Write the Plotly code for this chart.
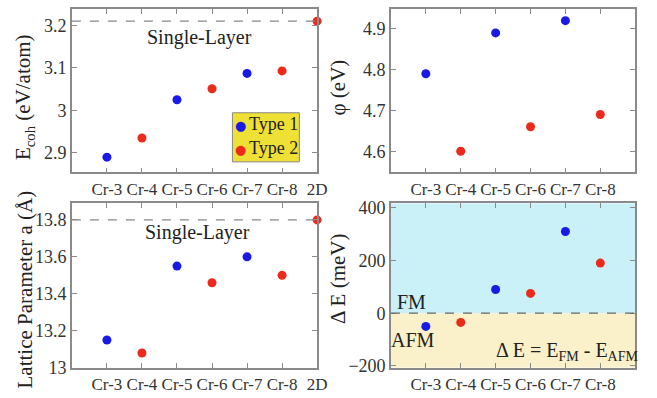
import plotly.graph_objects as go

# ---- data ----
cats_all = ["Cr-3", "Cr-4", "Cr-5", "Cr-6", "Cr-7", "Cr-8", "2D"]
cats = ["Cr-3", "Cr-4", "Cr-5", "Cr-6", "Cr-7", "Cr-8"]

type1_x = ["Cr-3", "Cr-5", "Cr-7"]
type2_x = ["Cr-4", "Cr-6", "Cr-8"]
type2_x_2d = ["Cr-4", "Cr-6", "Cr-8", "2D"]

ecoh_t1 = [2.89, 3.025, 3.087]
ecoh_t2 = [2.935, 3.051, 3.093, 3.21]
ecoh_single = 3.21

phi_t1 = [4.79, 4.89, 4.92]
phi_t2 = [4.60, 4.66, 4.69]

lat_t1 = [13.15, 13.55, 13.60]
lat_t2 = [13.08, 13.46, 13.50, 13.80]
lat_single = 13.80

de_t1 = [-50, 90, 310]
de_t2 = [-35, 75, 190]

legend_names = ["Type 1", "Type 2"]

BLUE = "#1a1ae6"
RED = "#ec2a1c"
FRAME = "#8a8a8a"
FONT = "Liberation Serif, serif"
W, H = 657, 398


def px_x(p):
    return p / W


def px_y(p):
    return 1 - p / H


fig = go.Figure()


def add_pts(x, y, color, name, axis):
    fig.add_trace(go.Scatter(
        x=x, y=y, mode="markers", name=name, showlegend=False,
        marker=dict(color=color, size=9),
        xaxis="x" + axis, yaxis="y" + axis, cliponaxis=False))


add_pts(type1_x, ecoh_t1, BLUE, legend_names[0], "")
add_pts(type2_x_2d, ecoh_t2, RED, legend_names[1], "")
add_pts(type1_x, phi_t1, BLUE, legend_names[0], "2")
add_pts(type2_x, phi_t2, RED, legend_names[1], "2")
add_pts(type1_x, lat_t1, BLUE, legend_names[0], "3")
add_pts(type2_x_2d, lat_t2, RED, legend_names[1], "3")
add_pts(type1_x, de_t1, BLUE, legend_names[0], "4")
add_pts(type2_x, de_t2, RED, legend_names[1], "4")

doms_x = {"": (73, 322), "2": (397, 645), "3": (73, 322), "4": (397, 645)}
doms_y = {"": (4, 174), "2": (4, 174), "3": (206, 377), "4": (206, 377)}
yranges = {"": [2.854, 3.239], "2": [4.548, 4.949], "3": [13.0, 13.89], "4": [-207, 417]}
dticks = {"": 0.1, "2": 0.1, "3": 0.2, "4": 200}

axis_common = dict(showline=True, linecolor=FRAME, linewidth=1.5, mirror="ticks",
                   ticks="inside", ticklen=5, tickcolor=FRAME, showgrid=False,
                   zeroline=False)

layout = {}
for a in ["", "2", "3", "4"]:
    x0, x1 = doms_x[a]
    y0, y1 = doms_y[a]
    layout["xaxis" + a] = dict(axis_common, domain=[px_x(x0), px_x(x1)],
                               type="category", categoryorder="array",
                               categoryarray=cats_all, range=[-1, 6],
                               tickvals=cats_all if a in ("", "3") else cats,
                               tickfont=dict(family=FONT, size=17, color="#333"),
                               anchor="y" + a)
    layout["yaxis" + a] = dict(axis_common, domain=[px_y(y1), px_y(y0)],
                               range=yranges[a], dtick=dticks[a],
                               tickfont=dict(family=FONT, size=18, color="#333"),
                               anchor="x" + a)

fig.update_layout(**layout)

shapes = [
    # panel 4 backgrounds
    dict(type="rect", xref="x4 domain", yref="y4", x0=0, x1=1, y0=0, y1=417,
         fillcolor="#c9f1f7", line=dict(width=0), layer="below"),
    dict(type="rect", xref="x4 domain", yref="y4", x0=0, x1=1, y0=-207, y1=0,
         fillcolor="#faf0c9", line=dict(width=0), layer="below"),
    dict(type="line", xref="x4 domain", yref="y4", x0=0, x1=1, y0=0, y1=0,
         line=dict(color="#666", width=1.2, dash="dash")),
    dict(type="line", xref="x domain", yref="y", x0=0, x1=1, y0=ecoh_single, y1=ecoh_single,
         line=dict(color="#888", width=1.2, dash="dash")),
    dict(type="line", xref="x3 domain", yref="y3", x0=0, x1=1, y0=lat_single, y1=lat_single,
         line=dict(color="#888", width=1.2, dash="dash")),
    # legend box
    dict(type="rect", xref="paper", yref="paper", x0=px_x(236), x1=px_x(304),
         y0=px_y(163), y1=px_y(112), fillcolor="#efe035",
         line=dict(color="#888", width=1)),
]

ann_font = dict(family=FONT, size=20, color="#222")
title_font = dict(family=FONT, size=21, color="#222")
leg_font = dict(family=FONT, size=18, color="#222")
annotations = [
    dict(text="Single-Layer", x=2.65, y=3.172, xref="x", yref="y", showarrow=False, font=ann_font),
    dict(text="Single-Layer", x=2.6, y=13.73, xref="x3", yref="y3", showarrow=False, font=ann_font),
    dict(text="FM", x=-0.4, y=42, xref="x4", yref="y4", showarrow=False, font=ann_font),
    dict(text="AFM", x=-0.37, y=-100, xref="x4", yref="y4", showarrow=False, font=ann_font),
    dict(text="Δ E = E<sub>FM</sub> - E<sub>AFM</sub>", x=4.05, y=-145, xref="x4", yref="y4",
         showarrow=False, font=ann_font),
    # legend entries
    dict(text="●", x=px_x(244), y=px_y(125), xref="paper", yref="paper", showarrow=False,
         xanchor="center", yanchor="middle", font=dict(family="DejaVu Sans", size=13, color=BLUE)),
    dict(text="●", x=px_x(244), y=px_y(150), xref="paper", yref="paper", showarrow=False,
         xanchor="center", yanchor="middle", font=dict(family="DejaVu Sans", size=13, color=RED)),
    dict(text=legend_names[0], x=px_x(251), y=px_y(124), xref="paper", yref="paper",
         showarrow=False, xanchor="left", yanchor="middle", font=leg_font),
    dict(text=legend_names[1], x=px_x(251), y=px_y(149), xref="paper", yref="paper",
         showarrow=False, xanchor="left", yanchor="middle", font=leg_font),
    # axis titles
    dict(text="E<sub>coh</sub> (eV/atom)", x=px_x(25), y=px_y(96), xref="paper", yref="paper",
         xanchor="center", yanchor="middle",
         textangle=-90, showarrow=False, font=title_font),
    dict(text="φ (eV)", x=px_x(343), y=px_y(86), xref="paper", yref="paper",
         xanchor="center", yanchor="middle",
         textangle=-90, showarrow=False, font=title_font),
    dict(text="Lattice Parameter a (Å)", x=px_x(25), y=px_y(296), xref="paper", yref="paper",
         xanchor="center", yanchor="middle",
         textangle=-90, showarrow=False, font=title_font),
    dict(text="Δ E (meV)", x=px_x(343), y=px_y(285), xref="paper", yref="paper",
         xanchor="center", yanchor="middle",
         textangle=-90, showarrow=False, font=title_font),
]

fig.update_layout(
    width=W, height=H, margin=dict(l=0, r=0, t=0, b=0),
    paper_bgcolor="white", plot_bgcolor="white",
    shapes=shapes, annotations=annotations, showlegend=False,
)

fig.write_html("out.html")
